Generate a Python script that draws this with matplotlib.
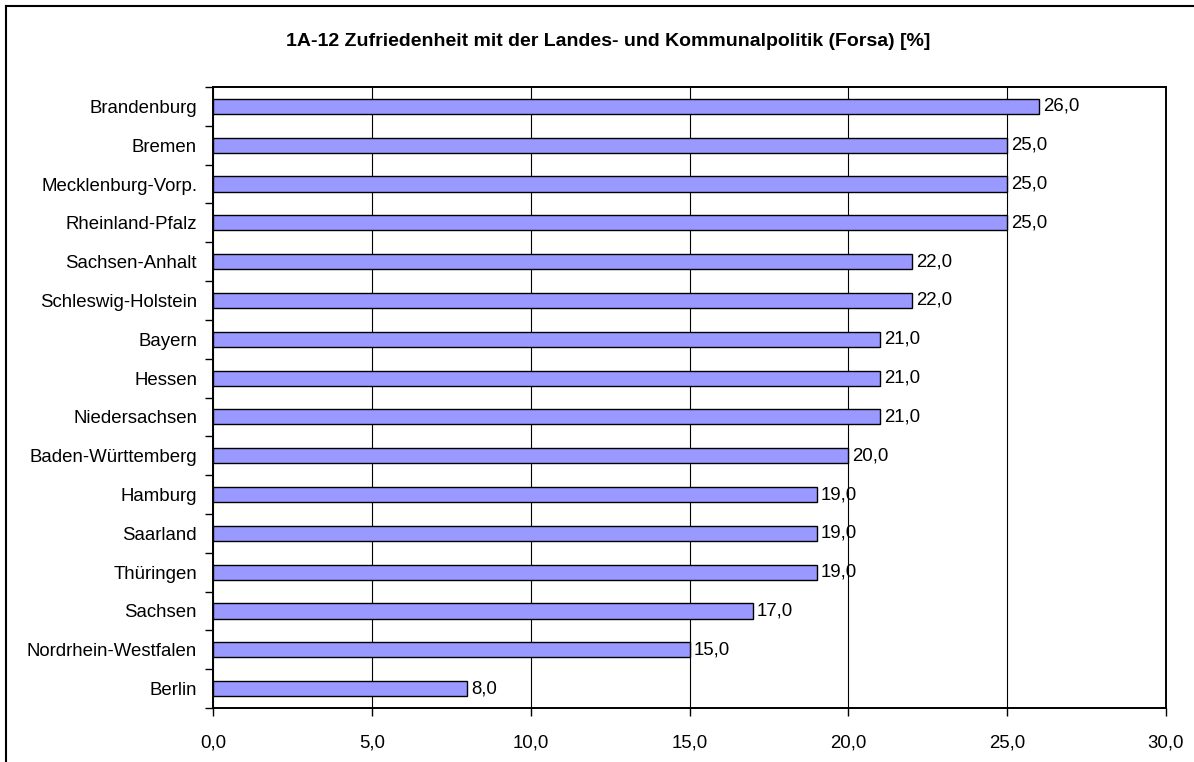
import numpy as np
import matplotlib.pyplot as plt
from matplotlib.lines import Line2D

laender = ['Brandenburg', 'Bremen', 'Mecklenburg-Vorp.', 'Rheinland-Pfalz',
           'Sachsen-Anhalt', 'Schleswig-Holstein', 'Bayern', 'Hessen',
           'Niedersachsen', 'Baden-Württemberg', 'Hamburg', 'Saarland',
           'Thüringen', 'Sachsen', 'Nordrhein-Westfalen', 'Berlin']
werte = [26.0, 25.0, 25.0, 25.0, 22.0, 22.0, 21.0, 21.0,
         21.0, 20.0, 19.0, 19.0, 19.0, 17.0, 15.0, 8.0]
xticks = [0, 5, 10, 15, 20, 25, 30]
titel = '1A-12 Zufriedenheit mit der Landes- und Kommunalpolitik (Forsa) [%]'

plt.rcParams['font.family'] = ['Liberation Sans', 'DejaVu Sans']
fs = 13.4

fig = plt.figure(figsize=(11.94, 7.62), dpi=100)
ax = fig.add_axes([213 / 1194, 54 / 762, 953 / 1194, 621 / 762])

y = np.arange(len(laender))[::-1]
ax.barh(y, werte, height=0.39, color='#9999FF', edgecolor='black',
        linewidth=1.0, zorder=3)
for yi, v in zip(y, werte):
    ax.text(v + 0.12, yi, ('%.1f' % v).replace('.', ','), va='center',
            ha='left', fontsize=fs)

ax.set_xlim(0, 30)
ax.set_ylim(-0.5, len(laender) - 0.5)
ax.set_xticks(xticks)
ax.set_xticklabels([('%.1f' % t).replace('.', ',') for t in xticks],
                   fontsize=fs)
ax.set_yticks(y)
ax.set_yticklabels(laender, fontsize=fs)
ax.set_yticks(np.arange(-0.5, len(laender), 1), minor=True)
ax.tick_params(axis='y', which='major', length=0, pad=11.5)
ax.tick_params(axis='y', which='minor', length=6, width=1, direction='out')
ax.tick_params(axis='x', length=6, width=1, direction='out', pad=13)
ax.xaxis.grid(True, color='black', linewidth=0.8, zorder=1)
ax.set_axisbelow(True)
for s in ax.spines.values():
    s.set_linewidth(1.4)

fig.text(608 / 1194, 1 - 42 / 762, titel, ha='center', va='center',
         fontsize=14, fontweight='bold')

# Rahmen des Diagramms
fig.add_artist(Line2D([6 / 1194, 1], [1 - 6 / 762, 1 - 6 / 762],
                      color='black', linewidth=1.5, transform=fig.transFigure))
fig.add_artist(Line2D([6 / 1194, 6 / 1194], [0, 1 - 6 / 762],
                      color='black', linewidth=1.5, transform=fig.transFigure))

fig.savefig('out.png', dpi=100)
